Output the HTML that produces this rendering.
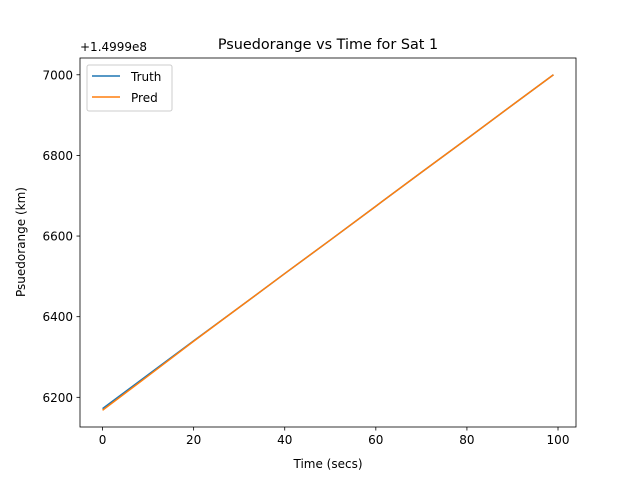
<!DOCTYPE html>
<html><head><meta charset="utf-8"><style>
body{margin:0;background:#fff}
svg text{font-family:"DejaVu Sans","Liberation Sans",sans-serif;fill:#000}
</style></head><body>
<svg id="c" width="640" height="480" xmlns="http://www.w3.org/2000/svg">
<rect width="640" height="480" fill="#fff"/>
<text x="328" y="49" font-size="14.4" text-anchor="middle">Psuedorange vs Time for Sat 1</text>
<text x="80" y="51" font-size="12">+1.4999e8</text>
<g id="plot"></g>
<rect x="80" y="58" width="496" height="369" fill="none" stroke="#000" stroke-width="0.8"/>
<text x="328" y="468" font-size="12" text-anchor="middle">Time (secs)</text>
<text transform="translate(25,242) rotate(-90)" font-size="12" text-anchor="middle">Psuedorange (km)</text>
<g>
<rect x="87" y="65" width="85" height="46" rx="2" fill="#fff" fill-opacity="0.8" stroke="#ccc"/>
<line x1="92" y1="76" x2="120" y2="76" stroke="#1f77b4" stroke-width="1.5"/>
<text x="131" y="81" font-size="12">Truth</text>
<line x1="92" y1="97" x2="120" y2="97" stroke="#ff7f0e" stroke-width="1.5"/>
<text x="131" y="102" font-size="12">Pred</text>
</g>
</svg>
<script>
const times=[0,10,20,30,40,50,60,70,80,90,99];
const truth=[6172,6256,6340,6423,6507,6590,6674,6758,6841,6925,7000];
const pred=[6168,6253,6339,6423,6507,6590,6674,6758,6841,6925,7000];
const xTicks=[0,20,40,60,80,100];
const yTicks=[6200,6400,6600,6800,7000];
const L=80,R=576,T=58,B=427;
const x0=-4.95,x1=103.95,y0=6126.4,y1=7041.6;
const sx=v=>L+(v-x0)/(x1-x0)*(R-L);
const sy=v=>B-(v-y0)/(y1-y0)*(B-T);
const g=document.getElementById('plot');
const NS='http://www.w3.org/2000/svg';
function mk(t,a){const e=document.createElementNS(NS,t);for(const k in a)e.setAttribute(k,a[k]);g.appendChild(e);return e;}
xTicks.forEach(v=>{
 const l=mk('line',{x1:sx(v),x2:sx(v),y1:B,y2:B+3.5,stroke:'#000','stroke-width':0.8});
 
 
 const t=mk('text',{x:sx(v),y:B+17,'font-size':12,'text-anchor':'middle'});t.textContent=v;
 
 
});
yTicks.forEach(v=>{
 const l=mk('line',{x1:L-3.5,x2:L,y1:sy(v),y2:sy(v),stroke:'#000','stroke-width':0.8});
 
 
 const t=mk('text',{x:L-7,y:sy(v)+4.5,'font-size':12,'text-anchor':'end'});t.textContent=v;
 
 
});
function line(vals,color,name){
 const p=mk('polyline',{points:times.map((t,i)=>sx(t)+','+sy(vals[i])).join(' '),fill:'none',stroke:color,'stroke-width':1.5});
 
 
}
line(truth,'#1f77b4','truth-line');
line(pred,'#ff7f0e','pred-line');
</script>
</body></html>
